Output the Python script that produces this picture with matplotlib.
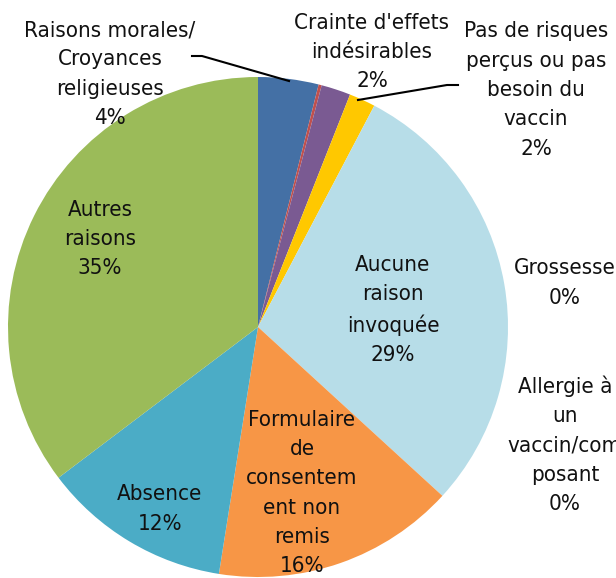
import matplotlib.pyplot as plt

# Raisons de non-vaccination (parts en %)
categories = ["Raisons morales/\nCroyances\nreligieuses", "Grossesse",
              "Crainte d'effets\nindésirables",
              "Pas de risques\nperçus ou pas\nbesoin du\nvaccin",
              "Aucune\nraison\ninvoquée", "Allergie à\nun\nvaccin/com\nposant",
              "Formulaire\nde\nconsentem\nent non\nremis", "Absence",
              "Autres\nraisons"]
values = [3.9, 0.2, 1.9, 1.7, 29.1, 0.0, 15.7, 12.2, 35.3]
colors = ["#4470A5", "#C0504D", "#7A5A92", "#FFC800", "#B7DDE8", "#C0504D",
          "#F79646", "#4BACC6", "#9BBB59"]

W, H = 616, 578
fig = plt.figure(figsize=(W / 100, H / 100), dpi=100)
ax = fig.add_axes([0, 0, 1, 1])

ax.pie(values, colors=colors, startangle=90, counterclock=False,
       center=(258, H - 327), radius=250, frame=True,
       wedgeprops={'linewidth': 0})
ax.set_xlim(0, W)
ax.set_ylim(0, H)
ax.set_aspect('equal')
ax.axis('off')

# label centres in pixel coordinates (x, y from top)
label_pos = [(110, 74), (565, 283), (372, 52), (536, 90), (393, 310),
             (565, 445), (302, 493), (160, 509), (100, 239)]

for name, val, (px, py) in zip(categories, values, label_pos):
    ax.text(px, H - py, f"{name}\n{round(val):.0f}%", ha='center', va='center',
            fontsize=16, family='DejaVu Sans', fontstretch='condensed',
            color='#111111', linespacing=1.58)

# leader lines
ax.plot([192, 202, 289], [H - 56, H - 56, H - 81], color='black', lw=1.5)
ax.plot([358, 447, 458], [H - 100, H - 85, H - 85], color='black', lw=1.5)

fig.savefig('out.png', dpi=100)
